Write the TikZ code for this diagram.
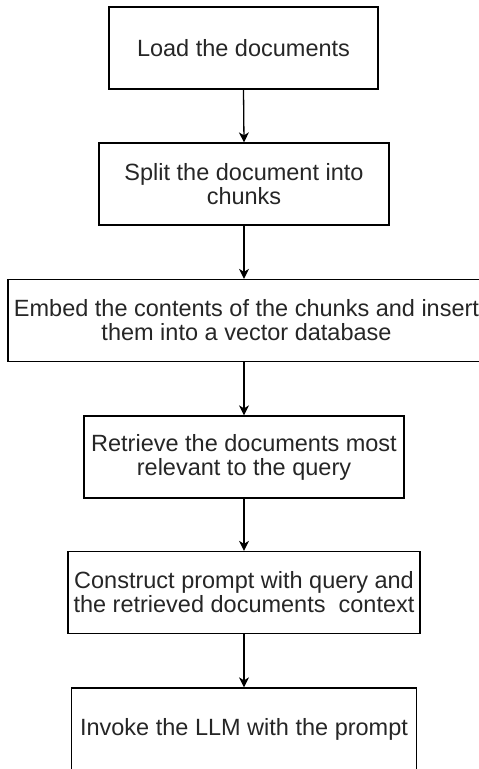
\documentclass[tikz,border=0pt]{standalone}
\usepackage{fontspec}
\setmainfont{Liberation Sans}
\usetikzlibrary{arrows.meta}
\begin{document}
\begin{tikzpicture}[x=1pt,y=-1pt,
  box/.style={draw=black, line width=1.3pt, fill=white, align=center,
    font=\fontsize{23.5}{24}\selectfont, inner sep=0pt, text=black!85,
    minimum height=82pt},
  arr/.style={-{Stealth[length=10pt,width=10pt,inset=3pt]}, line width=1.3pt, draw=black}]
\useasboundingbox (0,0) rectangle (479,769);
\begin{scope}
\clip (0,0) rectangle (479,769);
\node[box, minimum width=269pt] (n1) at (243.5,48) {Load the documents};
\node[box, minimum width=290pt] (n2) at (244,184) {Split the document into\\chunks};
\node[box, minimum width=477pt] (n3) at (246.5,320.5) {Embed the contents of the chunks and insert\\them into a vector database};
\node[box, minimum width=320pt] (n4) at (244,457) {Retrieve the documents most\\relevant to the query};
\node[box, minimum width=352pt] (n5) at (244,592.5) {Construct prompt with query and\\the retrieved documents\ \ context};
\node[box, minimum width=345pt] (n6) at (244,729) {Invoke the LLM with the prompt};
\draw[arr] (n1.south) -- (n2.north);
\draw[arr] (n2.south) -- (n2.south |- n3.north);
\draw[arr] (n2.south |- n3.south) -- (n4.north);
\draw[arr] (n4.south) -- (n5.north);
\draw[arr] (n5.south) -- (n6.north);
\end{scope}
\end{tikzpicture}
\end{document}
